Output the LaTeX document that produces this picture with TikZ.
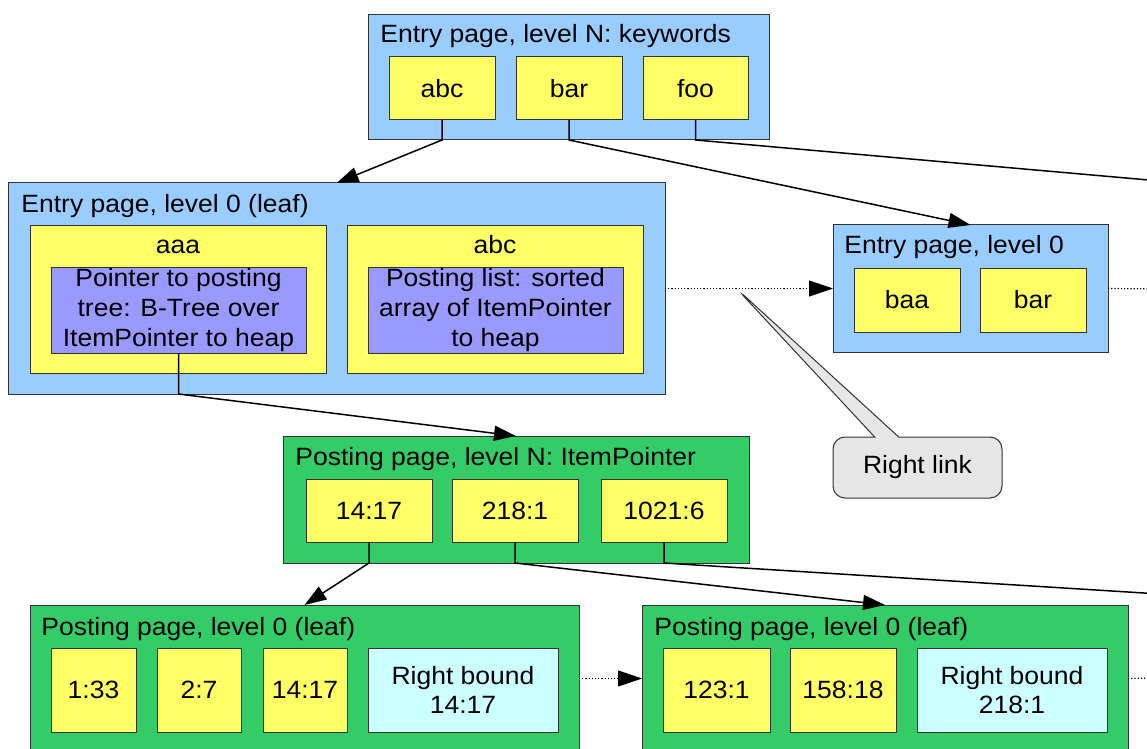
\documentclass[tikz,border=0pt]{standalone}
\usepackage{fontspec}
\setmainfont{Liberation Sans}[FakeStretch=1.06]
\usepackage{tikz}
\usetikzlibrary{arrows.meta, shapes.callouts}

\definecolor{boxline}{HTML}{333333}
\definecolor{entryblue}{HTML}{99CCFF}
\definecolor{postgreen}{HTML}{33CC66}
\definecolor{itemyellow}{HTML}{FFFF66}
\definecolor{ptrpurple}{HTML}{9999FF}
\definecolor{boundcyan}{HTML}{CCFFFF}
\definecolor{notegray}{HTML}{E6E6E6}

\begin{document}
\begin{tikzpicture}[x=0.5pt, y=-0.5pt,
		every node/.style={font=\fontsize{12.5}{14.8}\selectfont},
		box/.style={draw=boxline, line width=0.5pt, inner sep=0pt, outer sep=0pt, anchor=north west},
		entry/.style={box, fill=entryblue},
		posting/.style={box, fill=postgreen},
		item/.style={box, fill=itemyellow, align=center},
		ptrbox/.style={box, fill=ptrpurple, align=center},
		bound/.style={box, fill=boundcyan, align=center},
		title/.style={anchor=base west, inner sep=0pt},
		ptr/.style={line width=0.75pt, -{Triangle[length=11pt,width=7.5pt]}},
		rlink/.style={densely dotted, line width=0.6pt, draw=black},
		note/.style={rectangle callout, draw=boxline, fill=notegray, line width=0.5pt,
			minimum width=84.5pt, minimum height=30.5pt, rounded corners=6pt,
			callout pointer width=12pt}]
		\useasboundingbox (0,0) rectangle (1147,749);
		\clip (0,0) rectangle (1147,749);

		\node[entry, minimum width=200.5pt, minimum height=62.5pt] (top) at (368,15) {};
		\node[title] (top-t) at (380,43) {Entry page, level N: keywords};
		\node[item, minimum width=53pt, minimum height=31.5pt] (top-abc) at (389,57) {abc};
		\node[item, minimum width=53pt, minimum height=31.5pt] (top-bar) at (516,57) {bar};
		\node[item, minimum width=52.5pt, minimum height=31.5pt] (top-foo) at (643,57) {foo};

		\node[entry, minimum width=328.5pt, minimum height=105.5pt] (leaf) at (8,183) {};
		\node[title] (leaf-t) at (21,213) {Entry page, level 0 (leaf)};
		\node[item, minimum width=148pt, minimum height=73.5pt] (aaa) at (30,226) {};
		\node[anchor=base, inner sep=0pt] (aaa-t) at (178,253) {aaa};
		\node[ptrbox, minimum width=127.5pt, minimum height=43pt] (aaa-p) at (51,267) {Pointer to posting\\tree: B-Tree over\\ItemPointer to heap};
		\node[item, minimum width=148pt, minimum height=73.5pt] (abc) at (347,226) {};
		\node[anchor=base, inner sep=0pt] (abc-t) at (495,253) {abc};
		\node[ptrbox, minimum width=127.5pt, minimum height=43pt] (abc-p) at (368,267) {Posting list: sorted\\array of ItemPointer\\to heap};

		\node[entry, minimum width=137.5pt, minimum height=63.5pt] (lvl0) at (833,225) {};
		\node[title] (lvl0-t) at (844,254) {Entry page, level 0};
		\node[item, minimum width=53pt, minimum height=32pt] (lvl0-baa) at (854,268) {baa};
		\node[item, minimum width=53pt, minimum height=32pt] (lvl0-bar) at (980,268) {bar};

		\node[posting, minimum width=233pt, minimum height=63.5pt] (pn) at (283,436) {};
		\node[title] (pn-t) at (295,465) {Posting page, level N: ItemPointer};
		\node[item, minimum width=63pt, minimum height=31.5pt] (pn-1417) at (306,479) {14:17};
		\node[item, minimum width=63pt, minimum height=31.5pt] (pn-2181) at (452,479) {218:1};
		\node[item, minimum width=63pt, minimum height=31.5pt] (pn-10216) at (601,479) {1021:6};

		\node[posting, minimum width=274.5pt, minimum height=73.5pt] (pl1) at (30,605) {};
		\node[title] (pl1-t) at (41,635) {Posting page, level 0 (leaf)};
		\node[item, minimum width=42.5pt, minimum height=42pt] (pl1-133) at (51,648) {1:33};
		\node[item, minimum width=42pt, minimum height=42pt] (pl1-27) at (157,648) {2:7};
		\node[item, minimum width=42pt, minimum height=42pt] (pl1-1417) at (263,648) {14:17};
		\node[bound, minimum width=95pt, minimum height=42pt] (pl1-rb) at (368,648) {Right bound\\14:17};

		\node[posting, minimum width=243pt, minimum height=73.5pt] (pl2) at (642,605) {};
		\node[title] (pl2-t) at (654,635) {Posting page, level 0 (leaf)};
		\node[item, minimum width=53.5pt, minimum height=42pt] (pl2-1231) at (663,648) {123:1};
		\node[item, minimum width=53pt, minimum height=42pt] (pl2-15818) at (790,648) {158:18};
		\node[bound, minimum width=95pt, minimum height=42pt] (pl2-rb) at (917,648) {Right bound\\218:1};

		\coordinate (foo-end) at (1160,181);
		\coordinate (lvl0-end) at (1160,289);
		\coordinate (pn-end) at (1160,594);
		\coordinate (pl2-end) at (1160,678);
		\coordinate (rl) at (737,289);

		\draw[ptr] (top-abc.south) -- (top-abc.south |- top.south) -- (leaf.north);
		\draw[ptr] (top-bar.south) -- (top-bar.south |- top.south) -- (lvl0.north);
		\draw[line width=0.75pt] (top-foo.south) -- (top-foo.south |- top.south) -- (foo-end);
		\draw[ptr] (aaa-p.south) -- (aaa-p.south |- leaf.south) -- (pn.north);
		\draw[ptr] (pn-1417.south) -- (pn-1417.south |- pn.south) -- (pl1.north);
		\draw[ptr] (pn-2181.south) -- (pn-2181.south |- pn.south) -- (pl2.north);
		\draw[line width=0.75pt] (pn-10216.south) -- (pn-10216.south |- pn.south) -- (pn-end);

		\draw[rlink, -{Triangle[length=12pt,width=8pt]}] (leaf.east) -- (lvl0.west);
		\draw[rlink] (lvl0.east) -- (lvl0-end);
		\draw[rlink, -{Triangle[length=12pt,width=8pt]}] (pl1.east) -- (pl2.west);
		\draw[rlink] (pl2.east) -- (pl2-end);

		\node[note, callout absolute pointer={(rl)}] (link) at (917.5,467.5) {Right link};
	\end{tikzpicture}
\end{document}
